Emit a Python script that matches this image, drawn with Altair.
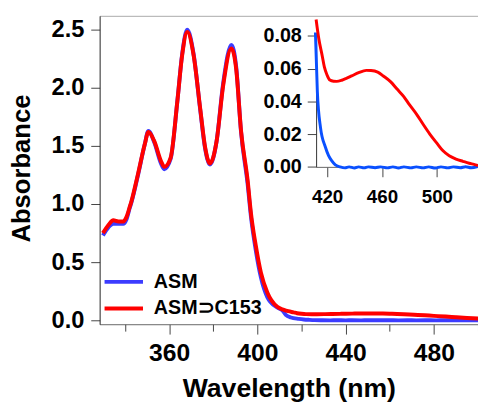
import altair as alt
import pandas as pd

series_names = ["ASM", "ASM\u2283C153"]

asm_nm = [330, 332.5, 334.7, 337, 339.2, 340.7, 342.2, 343, 345.9, 348.9, 350.6, 353.3,
          356.3, 357.8, 360.7, 363.7, 365.9, 368.2, 371.1, 374.1, 376.3, 378.5, 381.5,
          384.5, 388.2, 390.4, 392.6, 395.6, 397.1, 399.3, 401.6, 404.5, 409, 411.5,
          412.9, 415.2, 418.8, 421, 423.6, 426, 429.5, 433, 436, 440, 443, 447, 450,
          455, 459, 464, 468, 472, 476, 481, 485, 490, 494, 499, 503, 508, 512, 517,
          521, 525, 530]
asm_abs = [0.73, 0.80, 0.83, 0.83, 0.83, 0.87, 0.97, 1.02, 1.25, 1.51, 1.63, 1.53,
           1.35, 1.30, 1.39, 1.88, 2.29, 2.50, 2.29, 1.81, 1.48, 1.34, 1.54,
           2.04, 2.37, 2.18, 1.62, 1.17, 0.89, 0.60, 0.37, 0.20, 0.11, 0.082,
           0.046, 0.024, 0.012, 0.007, 0.0035, 0.0012, 0.0, -0.0006, 0.0, -0.0007, 0.0, -0.0006, 0.0,
           -0.0005, 0.0, -0.0006, 0.0, -0.0007, 0.0, -0.0006, 0.0, -0.0006, 0.0, -0.0007, 0.0, -0.0006, 0.0, -0.0005,
           0.0001, -0.0005, 0.0003]

c153_nm = [330, 332.5, 334.7, 337, 339.2, 340.7, 342.2, 343, 345.9, 348.9, 350.6, 353.3,
           356.3, 357.8, 360.7, 363.7, 365.9, 368.2, 371.1, 374.1, 376.3, 378.5, 381.5,
           384.5, 388.2, 390.4, 392.6, 395.6, 397.1, 399.3, 401.6, 404.5, 409, 412,
           414, 416.4, 418, 420, 422, 424.7, 427, 430.7, 434, 437.9, 443, 448.6, 452,
           456.9, 461, 466.4, 471, 475.9, 480, 485.4, 490, 495, 500, 504.5, 509, 514,
           519, 523.6, 527, 530]
c153_abs = [0.75, 0.82, 0.86, 0.85, 0.85, 0.89, 0.98, 1.03, 1.26, 1.51, 1.62, 1.54,
            1.37, 1.32, 1.40, 1.88, 2.28, 2.48, 2.28, 1.82, 1.49, 1.35, 1.54,
            2.02, 2.34, 2.16, 1.63, 1.20, 0.92, 0.64, 0.41, 0.24, 0.116, 0.09,
            0.078, 0.068, 0.061, 0.056, 0.053, 0.0523, 0.0522, 0.0529, 0.054, 0.0555, 0.0575, 0.0589, 0.0588,
            0.0579, 0.0555, 0.0519, 0.0475, 0.0429, 0.038, 0.0319, 0.026, 0.0199, 0.0145, 0.0098, 0.0068, 0.0048,
            0.0034, 0.0022, 0.0015, 0.0008]

main_x_ticks = [360, 400, 440, 480]
minor_x_ticks = [340, 380, 420, 460, 500]
main_y_ticks = [0, 0.5, 1.0, 1.5, 2.0, 2.5]
inset_x_ticks = [420, 460, 500]
inset_y_ticks = [0, 0.02, 0.04, 0.06, 0.08]

df = pd.concat([
    pd.DataFrame({"nm": asm_nm, "abs": asm_abs, "series": series_names[0]}),
    pd.DataFrame({"nm": c153_nm, "abs": c153_abs, "series": series_names[1]}),
], ignore_index=True)
inset_df = df[df["nm"] >= 411.5]

FONT = "Liberation Sans"
MAIN_X = [328.5, 500]

main = alt.Chart(df).mark_line(strokeWidth=4, clip=True, interpolate="monotone", strokeJoin="round").encode(
    x=alt.X("nm:Q", scale=alt.Scale(domain=MAIN_X, nice=False, zero=False),
            axis=alt.Axis(values=main_x_ticks, title="Wavelength (nm)", grid=False,
                          tickSize=10, labelPadding=7, labelFontSize=25, labelFont=FONT,
                          labelFontWeight="bold", labelColor="black",
                          titleFont=FONT, titleFontSize=27, titleFontWeight="bold", titleColor="black",
                          titleY=73, titleBaseline="alphabetic",
                          domainColor="#666666", tickColor="#444444")),
    y=alt.Y("abs:Q", scale=alt.Scale(domain=[-0.034, 2.62], nice=False, zero=False),
            axis=alt.Axis(values=main_y_ticks, format=".1f", title="Absorbance", grid=False,
                          tickSize=9, labelPadding=7, labelFontSize=24, labelFont=FONT,
                          labelFontWeight="bold", labelColor="black",
                          titleFont=FONT, titleFontSize=26, titleFontWeight="bold", titleColor="black",
                          titleX=-71, titleY=154.5, titleBaseline="alphabetic",
                          domainColor="#222222", tickColor="#444444")),
    color=alt.Color("series:N", sort=series_names,
                    scale=alt.Scale(domain=series_names, range=["#3c3cff", "#ff0000"]),
                    legend=alt.Legend(orient="none", legendX=3, legendY=256.5, title=None,
                                      symbolType="stroke", symbolSize=1521, symbolStrokeWidth=4,
                                      labelFontSize=20, labelFont=FONT, labelFontWeight="bold",
                                      labelColor="black", clipHeight=27, labelOffset=9,
                                      padding=0, rowPadding=0)),
)

minor = alt.Chart(pd.DataFrame({"nm": minor_x_ticks})).mark_point(opacity=0).encode(
    x=alt.X("nm:Q", scale=alt.Scale(domain=MAIN_X, nice=False, zero=False),
            axis=alt.Axis(orient="bottom", values=minor_x_ticks, tickSize=7, labels=False,
                          domain=False, title=None, grid=False, tickColor="#444444")),
    y=alt.value(0),
)

top = alt.Chart(pd.DataFrame({"nm": minor_x_ticks})).mark_point(opacity=0).encode(
    x=alt.X("nm:Q", scale=alt.Scale(domain=MAIN_X, nice=False, zero=False),
            axis=alt.Axis(orient="top", ticks=False, labels=False, domain=True,
                          domainColor="#aaaaaa", title=None, grid=False)),
    y=alt.value(0),
)

inset = alt.Chart(inset_df).mark_line(strokeWidth=3, interpolate="monotone", strokeJoin="round").encode(
    x=alt.X("nm:Q", scale=alt.Scale(domain=[412, 530], range=[219.7, 384], nice=False, zero=False),
            axis=alt.Axis(orient="bottom", offset=-159.7, values=inset_x_ticks, title=None, grid=False,
                          tickSize=10, labelPadding=11, labelFontSize=19, labelFont=FONT,
                          labelFontWeight="bold", labelColor="black",
                          domainColor="#666666", tickColor="#444444")),
    y=alt.Y("abs:Q", scale=alt.Scale(domain=[0, 0.08], range=[153.3, 20.3], nice=False, zero=False),
            axis=alt.Axis(orient="left", offset=-219.7, values=inset_y_ticks, format=".2f", title=None,
                          grid=False, tickSize=9, labelPadding=6, labelFontSize=20, labelFont=FONT,
                          labelFontWeight="bold", labelColor="black",
                          domainColor="#333333", tickColor="#444444")),
    color=alt.Color("series:N", sort=series_names,
                    scale=alt.Scale(domain=series_names, range=["#0a50ff", "#ff0000"]), legend=None),
)

chart = alt.layer(main, minor, top, inset).resolve_scale(
    x="independent", y="independent", color="independent"
).properties(
    width=384, height=313,
    padding={"left": 93, "top": 5, "right": 0, "bottom": 77},
    autosize=alt.AutoSizeParams(type="none"),
).configure_view(stroke=None)

chart.save("out.html", embed_options={"renderer": "svg", "actions": False})
